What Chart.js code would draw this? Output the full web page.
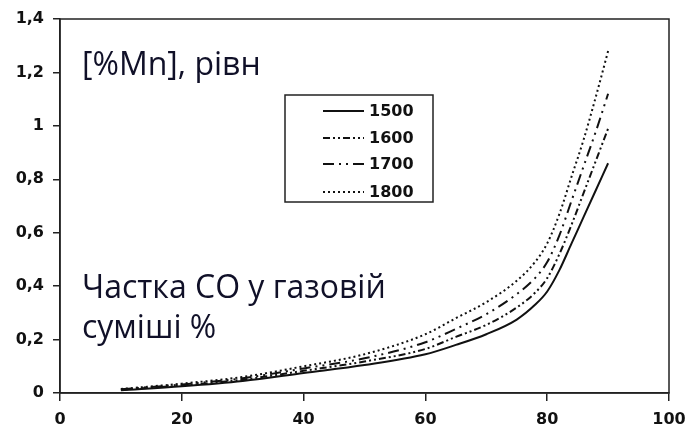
<!DOCTYPE html>
<html>
<head>
<meta charset="utf-8">
<script src="https://cdn.jsdelivr.net/npm/chart.js@4"></script>
<style>
  body { margin: 0; background: #fff; }
  #wrap { width: 691px; height: 439px; }
</style>
</head>
<body>
<div id="wrap"><canvas id="chart" width="691" height="439"></canvas></div>
<script>
// Частка CO у газовій суміші, % (вісь X)
const coShare = [10, 20, 30, 40, 50, 60, 65, 70, 75, 78, 80, 82, 84, 86, 88, 90];
// [%Mn] рівноважний для різних температур
const mn1500 = [0.01, 0.025, 0.045, 0.075, 0.105, 0.145, 0.18, 0.22, 0.275, 0.33, 0.38, 0.46, 0.56, 0.66, 0.76, 0.86];
const mn1600 = [0.012, 0.028, 0.05, 0.083, 0.118, 0.165, 0.21, 0.255, 0.32, 0.375, 0.43, 0.52, 0.63, 0.75, 0.87, 0.99];
const mn1700 = [0.014, 0.032, 0.055, 0.092, 0.13, 0.19, 0.24, 0.295, 0.37, 0.43, 0.49, 0.59, 0.72, 0.85, 0.98, 1.12];
const mn1800 = [0.015, 0.035, 0.06, 0.10, 0.145, 0.22, 0.28, 0.34, 0.42, 0.49, 0.56, 0.67, 0.81, 0.95, 1.11, 1.28];
const seriesLabels = ['1500', '1600', '1700', '1800'];
const xTicks = [0, 20, 40, 60, 80, 100];
const yTicks = [0, 0.2, 0.4, 0.6, 0.8, 1, 1.2, 1.4];

const ink = '#111';

function pts(ys) {
    return coShare.map((x, i) => ({ x: x, y: ys[i] }));
}

const dashes = [[], [7, 3, 2, 3, 2, 3], [11, 5, 2, 5, 2, 5], [2, 3]];
const datasets = [mn1500, mn1600, mn1700, mn1800].map((ys, i) => ({
    label: seriesLabels[i],
    data: pts(ys),
    borderColor: ink,
    borderWidth: 2,
    borderDash: dashes[i],
    pointRadius: 0,
    fill: false,
    cubicInterpolationMode: 'monotone'
}));

// рамка, підписи та легенда
const overlay = {
    id: 'overlay',
    afterDraw(chart) {
        const ctx = chart.ctx;
        const a = chart.chartArea;
        ctx.save();
        ctx.strokeStyle = '#222';
        ctx.lineWidth = 1.5;
        ctx.strokeRect(a.left, a.top, a.right - a.left, a.bottom - a.top);

        ctx.fillStyle = '#101028';
        ctx.font = '32px "Open Sans"';
        ctx.textBaseline = 'alphabetic';
        ctx.fillText('[%Mn], рівн', 82, 75);
        ctx.fillText('Частка СО у газовій', 82, 298);
        ctx.fillText('суміші %', 82, 338);

        // легенда
        const box = { x: 285, y: 95, w: 148, h: 107 };
        ctx.strokeStyle = '#222';
        ctx.lineWidth = 1.5;
        ctx.strokeRect(box.x, box.y, box.w, box.h);
        ctx.font = 'bold 16px "DejaVu Sans"';
        ctx.textBaseline = 'middle';
        ctx.fillStyle = ink;
        const rows = [111, 138, 164, 192];
        chart.data.datasets.forEach((ds, i) => {
            ctx.strokeStyle = ink;
            ctx.lineWidth = ds.borderWidth;
            ctx.setLineDash(ds.borderDash);
            ctx.beginPath();
            ctx.moveTo(323, rows[i]);
            ctx.lineTo(364, rows[i]);
            ctx.stroke();
            ctx.setLineDash([]);
            ctx.fillText(ds.label, 369, rows[i] + 1);
        });
        ctx.restore();
    }
};

new Chart(document.getElementById('chart'), {
    type: 'line',
    data: { datasets: datasets },
    options: {
        responsive: false,
        animation: false,
        layout: { padding: { left: 0, top: 19, right: 22, bottom: 0 } },
        plugins: { legend: { display: false }, tooltip: { enabled: false } },
        scales: {
            x: {
                type: 'linear',
                min: 0, max: 100,
                afterBuildTicks: s => { s.ticks = xTicks.map(v => ({ value: v })); },
                ticks: {
                    color: ink, padding: 5, maxRotation: 0,
                    font: { family: 'DejaVu Sans', size: 16, weight: 'bold', lineHeight: 1.7 }
                },
                grid: { drawOnChartArea: false, tickLength: 8, color: '#222', lineWidth: 1.5 },
                border: { color: '#222', width: 1.5 },
                afterFit: s => { s.height = 46; }
            },
            y: {
                min: 0, max: 1.4,
                afterBuildTicks: s => { s.ticks = yTicks.map(v => ({ value: v })); },
                ticks: {
                    color: ink, padding: 9,
                    font: { family: 'DejaVu Sans', size: 16, weight: 'bold' },
                    callback: v => String(+v.toFixed(1)).replace('.', ',')
                },
                grid: { drawOnChartArea: false, tickLength: 7, color: '#222', lineWidth: 1.5 },
                border: { color: '#222', width: 1.5 },
                afterFit: s => { s.width = 60; }
            }
        }
    },
    plugins: [overlay]
});
</script>
</body>
</html>
